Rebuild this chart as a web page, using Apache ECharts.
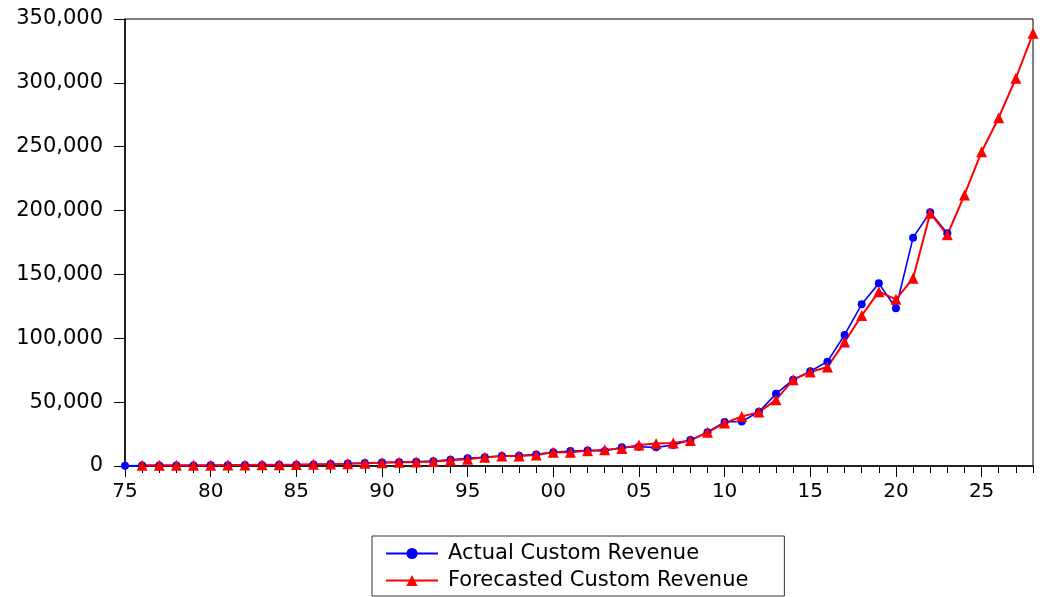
<!DOCTYPE html>
<html>
<head>
<meta charset="utf-8">
<script src="https://cdn.jsdelivr.net/npm/echarts@6/dist/echarts.min.js"></script>
<style>html,body{margin:0;padding:0;background:#fff;}#c{width:1042px;height:597px;}</style>
</head>
<body>
<div id="c"></div>
<script>
const years = [];
for (let y = 1975; y <= 2028; y++) years.push(String(y));

const actualRevenue = [
  200, 300, 350, 400, 450, 500, 600, 700, 800, 900,
  1000, 1200, 1500, 1900, 2300, 2700, 3000, 3300, 3800, 4800,
  6000, 6900, 7800, 8000, 9100, 10700, 11800, 12100, 11800, 14600,
  15100, 14600, 16400, 20300, 26400, 34500, 34800, 42500, 56500, 67600,
  74200, 81700, 102600, 126600, 143000, 123500, 178800, 198700, 182200,
  null, null, null, null, null
];

const forecastRevenue = [
  null, 500, 500, 550, 600, 650, 700, 800, 900, 1000,
  1100, 1300, 1500, 1800, 2200, 2500, 2900, 3200, 3500, 4500,
  5300, 6800, 7800, 7800, 8700, 10700, 10800, 12000, 12800, 13800,
  16500, 17600, 18000, 20000, 26400, 33600, 38800, 42200, 51800, 67600,
  73600, 77500, 97000, 117800, 136500, 130500, 147000, 198000, 181000,
  212200, 246100, 272700, 303600, 338800
];

const yTicks = [0, 50000, 100000, 150000, 200000, 250000, 300000, 350000];

const font = 'DejaVu Sans';
const chart = echarts.init(document.getElementById('c'), null, {renderer: 'canvas'});
chart.setOption({
  animation: false,
  backgroundColor: '#ffffff',
  grid: {left: 125, right: 9, top: 19, bottom: 131, show: true, borderColor: '#000', borderWidth: 1, backgroundColor: 'transparent'},
  legend: {
    orient: 'vertical',
    left: 372, top: 536,
    padding: [7, 36, 5, 13],
    itemGap: 6,
    itemWidth: 52, itemHeight: 14,
    borderColor: '#333', borderWidth: 1,
    textStyle: {fontFamily: font, fontSize: 21, color: '#000', padding: [0, 0, 0, 5]},
    data: ['Actual Custom Revenue', 'Forecasted Custom Revenue']
  },
  xAxis: [{
    type: 'category', data: years, boundaryGap: false, position: 'bottom',
    axisLine: {show: true, lineStyle: {color: '#000', width: 1.5}},
    axisTick: {show: true, interval: 4, length: 11, lineStyle: {color: '#000', width: 1}},
    axisLabel: {interval: 4, margin: 16, fontFamily: font, fontSize: 20, color: '#000', formatter: v => v.slice(2)},
    splitLine: {show: false}
  }, {
    type: 'category', data: years, boundaryGap: false, position: 'bottom', offset: 0,
    axisLine: {show: false},
    axisTick: {show: true, interval: 0, length: 7, lineStyle: {color: '#000', width: 1}},
    axisLabel: {show: false},
    splitLine: {show: false}
  }],
  yAxis: {
    type: 'value', min: yTicks[0], max: yTicks[yTicks.length - 1], interval: yTicks[1] - yTicks[0],
    axisLine: {show: true, lineStyle: {color: '#000', width: 1.5}},
    axisTick: {show: true, length: 11, lineStyle: {color: '#000'}},
    axisLabel: {margin: 22, fontFamily: font, fontSize: 21, color: '#000',
      formatter: v => v.toLocaleString('en-US')},
    splitLine: {show: false}
  },
  series: [{
    name: 'Actual Custom Revenue', type: 'line', xAxisIndex: 0, data: actualRevenue,
    symbol: 'circle', symbolSize: 8, showAllSymbol: true,
    itemStyle: {color: '#0000ff'}, lineStyle: {color: '#0000ff', width: 1.6},
    connectNulls: false
  }, {
    name: 'Forecasted Custom Revenue', type: 'line', xAxisIndex: 0, data: forecastRevenue,
    symbol: 'triangle', symbolSize: 11, showAllSymbol: true,
    itemStyle: {color: '#ff0000'}, lineStyle: {color: '#ff0000', width: 2},
    connectNulls: false
  }]
});
</script>
</body>
</html>
